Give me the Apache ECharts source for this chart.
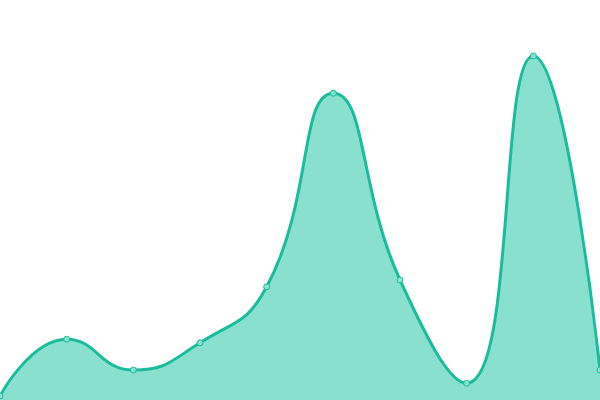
<!DOCTYPE html>
<html>
<head>
<meta charset="utf-8">
<style>
  html, body { margin: 0; padding: 0; background: #fff; }
  #chart { width: 600px; height: 400px; }
</style>
<script src="https://cdn.jsdelivr.net/npm/echarts@6/dist/echarts.min.js"></script>
</head>
<body>
<div id="chart"></div>
<script>
// 数据
var categories = ['1', '2', '3', '4', '5', '6', '7', '8', '9', '10'];
var values = [1, 15.2, 7.5, 14.3, 28.3, 76.7, 30, 4.2, 86, 7.5];

(function () {
  var myChart = echarts.init(document.getElementById('chart'));
  var option = {
    animation: false,
    grid: {
      left: 0,
      right: 0,
      top: 0,
      bottom: 0
    },
    xAxis: {
      type: 'category',
      boundaryGap: false,
      data: categories,
      show: false
    },
    yAxis: {
      type: 'value',
      min: 0,
      max: 100,
      show: false
    },
    series: [
      {
        type: 'line',
        smooth: true,
        data: values,
        symbol: 'circle',
        symbolSize: 6,
        itemStyle: {
          color: '#8ae0cf',
          borderColor: '#1abc9c',
          borderWidth: 1
        },
        lineStyle: {
          color: '#1abc9c',
          width: 3
        },
        areaStyle: {
          color: '#8ae0cf',
          opacity: 1
        }
      }
    ]
  };
  myChart.setOption(option);
  window.addEventListener('resize', function () {
    myChart.resize();
  });
})();
</script>
</body>
</html>
